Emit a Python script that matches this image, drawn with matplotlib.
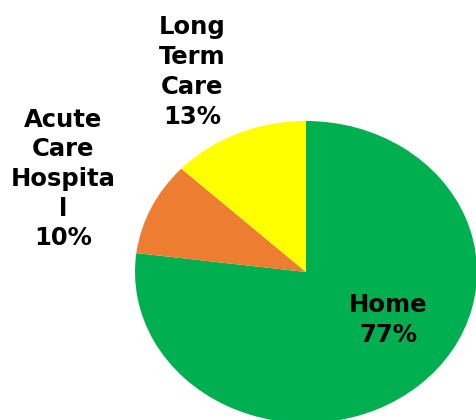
import matplotlib.pyplot as plt

# discharge destination shares
labels = ['Home', 'Acute\nCare\nHospita\nl', 'Long\nTerm\nCare']
values = [77, 10, 13]
colors = ['#00B050', '#ED7D31', '#FFFF00']

W, H = 476, 420
fig = plt.figure(figsize=(W / 100, H / 100), dpi=100)
ax = fig.add_axes([0, 0, 1, 1])

ax.pie(values, colors=colors, startangle=90, counterclock=False,
       wedgeprops={'linewidth': 0})

# pie is a bit wider than tall in the reference, and cut by the right and bottom edge
cx, cy = 306, 272
rx, ry = 171, 151
ax.set_aspect('auto')
ax.set_xlim(-cx / rx, (W - cx) / rx)
ax.set_ylim(-(H - cy) / ry, cy / ry)
ax.axis('off')

# label centres in pixels (from top left)
label_pos = [(388, 320), (63, 179), (192, 72)]
for lab, v, (px, py) in zip(labels, values, label_pos):
    fig.text(px / W, 1 - py / H, f'{lab}\n{v}%', ha='center', va='center',
             multialignment='center', fontsize=17.5, fontweight='bold',
             family='DejaVu Sans', linespacing=1.3)

fig.savefig('out.png', dpi=100)
